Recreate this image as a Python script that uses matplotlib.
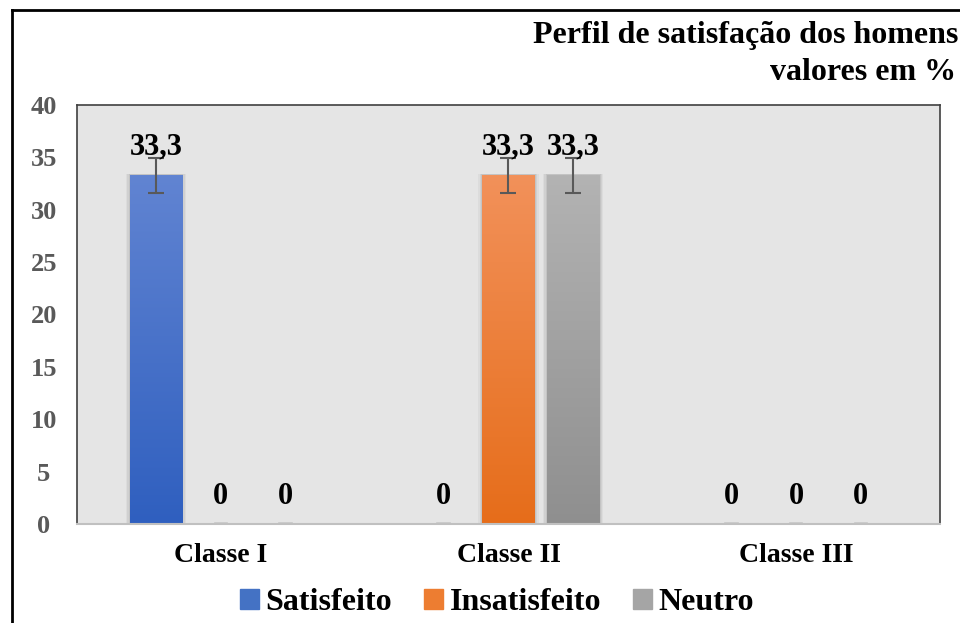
import numpy as np
import matplotlib.pyplot as plt
from matplotlib.colors import LinearSegmentedColormap
from matplotlib.patches import Rectangle
from matplotlib.lines import Line2D

plt.rcParams['font.family'] = ['Liberation Serif', 'DejaVu Serif']
plt.rcParams['font.weight'] = 'bold'

# --- data ---
categories = ['Classe I', 'Classe II', 'Classe III']
series = ['Satisfeito', 'Insatisfeito', 'Neutro']
satisfeito = [33.3, 0, 0]
insatisfeito = [0, 33.3, 0]
neutro = [0, 33.3, 0]
values = [satisfeito, insatisfeito, neutro]
err_frac = 0.05  # 5% error bars
yticks = [0, 5, 10, 15, 20, 25, 30, 35, 40]

# gradient (top, bottom) per series
grads = [('#6184d2', '#2f5fbf'),
         ('#f2915a', '#e66d1a'),
         ('#b3b3b3', '#8f8f8f')]
solid = ['#4472c4', '#ed7d31', '#a5a5a5']

fig = plt.figure(figsize=(9.6, 6.23), dpi=100)
fig.patch.set_facecolor('white')

# outer chart border (clipped at right and bottom)
fig.add_artist(Line2D([12 / 960, 12 / 960], [0, 1 - 10 / 623],
                      transform=fig.transFigure, color='black', lw=2))
fig.add_artist(Line2D([12 / 960, 1], [1 - 10 / 623, 1 - 10 / 623],
                      transform=fig.transFigure, color='black', lw=2))

ax = fig.add_axes([77 / 960, 1 - 524 / 623, (940 - 77) / 960, (524 - 105) / 623])
ax.set_facecolor('#e5e5e5')

x = np.arange(len(categories))
width = 0.182
offsets = [-0.225, 0, 0.225]

for k, (vals, name) in enumerate(zip(values, series)):
    pos = x + offsets[k]
    bars = ax.bar(pos, vals, width, color=solid[k], label=name, zorder=2)
    cmap = LinearSegmentedColormap.from_list('g%d' % k, [grads[k][1], grads[k][0]])
    for b, v in zip(bars, vals):
        cx = b.get_x() + b.get_width() / 2
        if v > 0:
            # soft shadow behind the bar
            for s, a in [(0.014, 0.04), (0.009, 0.05), (0.004, 0.06)]:
                ax.add_patch(Rectangle((b.get_x() - s, 0), b.get_width() + 2 * s,
                                       v + 0.1, color='black', alpha=a,
                                       lw=0, zorder=1.5))
            b.set_facecolor('none')
            grad = np.linspace(0, 1, 256).reshape(-1, 1)
            im = ax.imshow(grad, cmap=cmap, origin='lower', aspect='auto',
                           extent=[b.get_x(), b.get_x() + b.get_width(), 0, v],
                           zorder=2)
            im.set_clip_path(b)
            ax.errorbar(cx, v, yerr=v * err_frac,
                        fmt='none', ecolor='#595959', elinewidth=1.5,
                        capsize=6, capthick=1.5, zorder=4)
            ax.text(cx, v + 1.3, ('%.1f' % v).replace('.', ','),
                    ha='center', va='bottom', fontsize=22, fontweight='bold',
                    color='black', zorder=5)
        else:
            # zero bars show as a faint stub on the baseline
            ax.plot([cx - 0.022, cx + 0.022], [0.1, 0.1],
                    color='#c8c8c8', lw=1.2, zorder=2)
            ax.text(cx, 1.2, '0',
                    ha='center', va='bottom', fontsize=22, fontweight='bold',
                    color='black', zorder=5)

ax.set_xlim(-0.5, 2.5)
ax.set_ylim(0, 40)
ax.set_yticks(yticks)
ax.set_yticklabels([str(t) for t in yticks], fontsize=19, fontweight='bold', color='#595959')
ax.set_xticks(x)
ax.set_xticklabels(categories, fontsize=20, fontweight='bold', color='black')
ax.tick_params(axis='both', length=0)
ax.tick_params(axis='y', pad=24)
ax.tick_params(axis='x', pad=14)
for t in ax.get_yticklabels():
    t.set_horizontalalignment('center')

for side in ['top', 'left', 'right']:
    ax.spines[side].set_color('#404040')
    ax.spines[side].set_linewidth(1.2)
ax.spines['bottom'].set_color('#c0c0c0')
ax.spines['bottom'].set_linewidth(1.5)

fig.text(958 / 960, 1 - 35 / 623, 'Perfil de satisfação dos homens',
         ha='right', va='center', fontsize=23, fontweight='bold', color='black')
fig.text(956 / 960, 1 - 73 / 623, 'valores em %',
         ha='right', va='center', fontsize=23, fontweight='bold', color='black')

handles = [Rectangle((0, 0), 1, 1, color=c) for c in solid]
fig.legend(handles, series, loc='center', bbox_to_anchor=(497 / 960, 1 - 603 / 623),
           ncol=3, frameon=False,
           prop={'family': 'Liberation Serif', 'size': 23, 'weight': 'bold'},
           handlelength=0.6, handleheight=0.6, handletextpad=0.2, columnspacing=1.0)

fig.savefig('out.png', dpi=100, facecolor='white')
